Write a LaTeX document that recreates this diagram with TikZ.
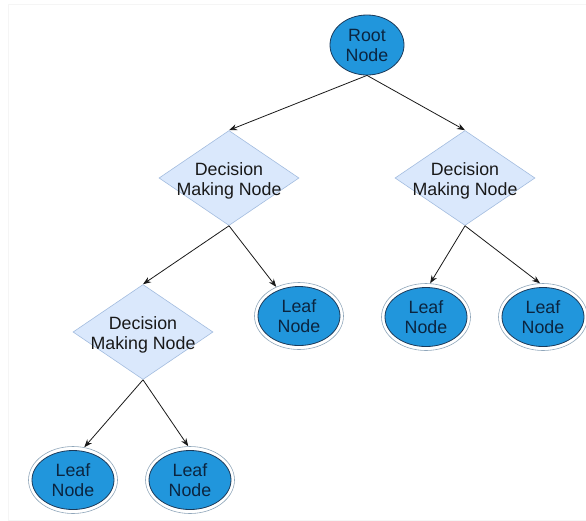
\documentclass[tikz,border=0pt]{standalone}
\usepackage{fontspec}
\setmainfont{Liberation Sans}
\usetikzlibrary{shapes.geometric,arrows.meta}
\definecolor{nodeblue}{HTML}{2196DC}
\definecolor{navyline}{HTML}{1B3A5A}
\definecolor{navytext}{HTML}{0B2540}
\definecolor{ringgray}{HTML}{8FA6BA}
\definecolor{diamfill}{HTML}{DAE8FC}
\definecolor{diamline}{HTML}{A3BCDF}
\begin{document}
\begin{tikzpicture}[x=1pt,y=-1pt,
  txt/.style={font=\fontsize{17.8}{20}\selectfont, align=center, inner sep=0pt},
  rootnode/.style={ellipse, draw=navyline, line width=0.8pt, fill=nodeblue,
    minimum width=74pt, minimum height=60pt, txt, text=navytext},
  leafnode/.style={ellipse, draw=ringgray, line width=0.6pt, fill=white,
    minimum width=89pt, minimum height=67pt, txt, text=navytext,
    path picture={\draw[draw=navyline, line width=0.8pt, fill=nodeblue]
      (path picture bounding box.center) ellipse (41pt and 29.5pt);}},
  decnode/.style={diamond, draw=diamline, fill=diamfill, line width=0.6pt,
    minimum width=140pt, minimum height=95pt, inner sep=0pt},
  dectext/.style={txt, text=black!90},
  arr/.style={-{Stealth[length=8pt,width=6pt]}, line width=0.8pt, black!90}]
\useasboundingbox (0,0) rectangle (586,520);
\draw[black!4] (8,4) rectangle (586,520);

\node[rootnode] (root) at (367,45) {Root\\Node};

\node[decnode] (d1) at (229,178) {};
\node[dectext] (d1t) at (229,181) {Decision\\Making Node};
\node[decnode] (d2) at (465,178) {};
\node[dectext] (d2t) at (465,181) {Decision\\Making Node};
\node[decnode] (d3) at (143,332) {};
\node[dectext] (d3t) at (143,335) {Decision\\Making Node};

\node[leafnode] (la) at (299,316) {Leaf\\Node};
\node[leafnode] (lb) at (426,317) {Leaf\\Node};
\node[leafnode] (lc) at (543,317) {Leaf\\Node};
\node[leafnode] (ld) at (73,480) {Leaf\\Node};
\node[leafnode] (le) at (190,480) {Leaf\\Node};

\draw[arr] (root.south) -- (d1.north);
\draw[arr] (root.south) -- (d2.north);
\draw[arr] (d1.south) -- (d3.north);
\draw[arr] (d1.south) -- (la.128);
\draw[arr] (d2.south) -- (lb.83);
\draw[arr] (d2.south) -- (lc.95);
\draw[arr] (d3.south) -- (ld.71);
\draw[arr] (d3.south) -- (le.93);
\end{tikzpicture}
\end{document}
